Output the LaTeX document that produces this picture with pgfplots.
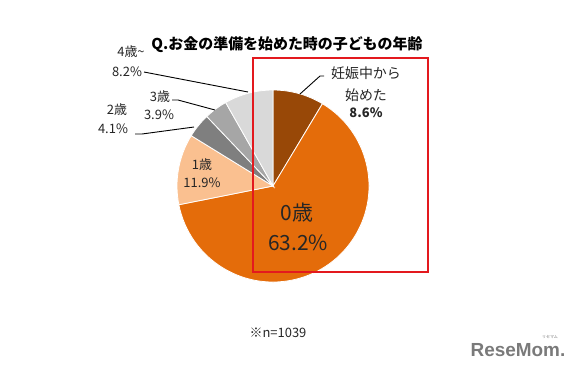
\documentclass[border=0pt]{standalone}
\usepackage{pgfplots}
\pgfplotsset{compat=1.18}
\usepackage{pgfplotstable}
\usepackage{fontspec}
\setmainfont{Noto Sans CJK JP}
\newfontfamily\logofont{Liberation Sans}
\definecolor{c0}{HTML}{984807}
\definecolor{c1}{HTML}{E46C0A}
\definecolor{c2}{HTML}{FAC090}
\definecolor{c3}{HTML}{7F7F7F}
\definecolor{c4}{HTML}{A6A6A6}
\definecolor{c5}{HTML}{D9D9D9}
\definecolor{boxred}{HTML}{E3191E}
\definecolor{logogray}{HTML}{7A7A7A}
\pgfplotstableread{
idx value
0 8.6
1 63.2
2 11.9
3 4.1
4 3.9
5 8.2
}\piedata
\gdef\pietotal{0}%
\pgfplotstableforeachcolumnelement{value}\of\piedata\as\v{%
  \pgfmathsetmacro\t{\pietotal+\v}\xdef\pietotal{\t}}%
\gdef\pieangle{90}%
\pgfplotstableforeachcolumnelement{value}\of\piedata\as\v{%
  \pgfmathsetmacro\ea{\pieangle-\v/\pietotal*360}%
  \expandafter\xdef\csname piesa\pgfplotstablerow\endcsname{\pieangle}%
  \expandafter\xdef\csname pieea\pgfplotstablerow\endcsname{\ea}%
  \xdef\pieangle{\ea}}%
\begin{document}
\begin{tikzpicture}
\begin{axis}[x=1bp, y=1bp, xmin=0, xmax=579, ymin=0, ymax=371,
  y dir=reverse, hide axis, clip=false]
\draw[draw=none] (axis cs:0,0) rectangle (axis cs:579,371);
\pgfplotsinvokeforeach{0,...,5}{
  \fill[c#1, draw=white, line width=0.8bp] (axis cs:273,186) -- ++(\csname piesa#1\endcsname:96bp)
    arc[start angle=\csname piesa#1\endcsname, end angle=\csname pieea#1\endcsname, radius=96bp] -- cycle;
}
\draw[boxred, line width=2bp] (axis cs:253,58) rectangle (axis cs:428,272);
% title
\node[font=\fontsize{15}{17}\selectfont\bfseries] at (axis cs:287,45) {Q.お金の準備を始めた時の子どもの年齢};
% leader lines
\draw[black, line width=0.9bp] (axis cs:144,72) -- (axis cs:248,92);
\draw[black, line width=0.9bp] (axis cs:172,100) -- (axis cs:178,100) -- (axis cs:215,110);
\draw[black, line width=0.9bp] (axis cs:135,134) -- (axis cs:142,134) -- (axis cs:194,127);
\draw[black, line width=0.9bp] (axis cs:324,76) -- (axis cs:320,76) -- (axis cs:300,94);
% labels
\begin{scope}[every node/.style={font=\fontsize{13}{15}\selectfont, text=black!85}]
\node at (axis cs:131,52) {4歳\textasciitilde};
\node at (axis cs:127,72) {8.2\%};
\node at (axis cs:160,97) {3歳};
\node at (axis cs:159,115) {3.9\%};
\node at (axis cs:117,110) {2歳};
\node at (axis cs:113,129) {4.1\%};
\node at (axis cs:202,165) {1歳};
\node at (axis cs:202,183) {11.9\%};
\node[font=\fontsize{14}{16}\selectfont] at (axis cs:366,73) {妊娠中から};
\node[font=\fontsize{14}{16}\selectfont] at (axis cs:366,95) {始めた};
\node[font=\fontsize{13}{15}\selectfont\bfseries] at (axis cs:366,113) {8.6\%};
\node[font=\fontsize{21}{24}\selectfont] at (axis cs:297,213) {0歳};
\node[font=\fontsize{21}{24}\selectfont] at (axis cs:298,243) {63.2\%};
\node at (axis cs:278,333) {※n=1039};
\end{scope}
\node[font=\logofont\bfseries\fontsize{19}{22}\selectfont, text=logogray] at (axis cs:518,350) {ReseMom.};
\node[font=\fontsize{4}{5}\selectfont, text=logogray] at (axis cs:550,337) {リセマム};
\end{axis}
\end{tikzpicture}
\end{document}
